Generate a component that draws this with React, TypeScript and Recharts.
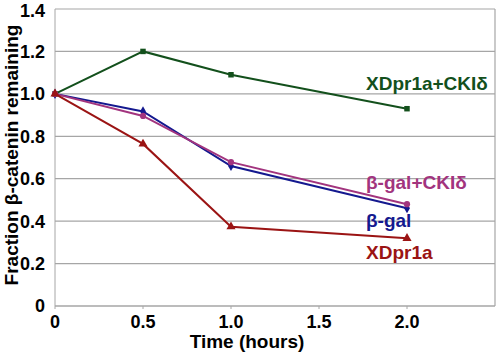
import React from "react";
import { CartesianGrid, Label, LabelList, Line, LineChart, ReferenceLine, Symbols, XAxis, YAxis } from "recharts";

const hours = [0, 0.5, 1.0, 2.0];
const xdprCki = [1.0, 1.2, 1.09, 0.93];
const betaGal = [1.0, 0.917, 0.66, 0.461];
const betaGalCki = [1.0, 0.896, 0.678, 0.48];
const xdpr = [1.0, 0.764, 0.374, 0.319];
const xTicks = [0, 0.5, 1.0, 1.5, 2.0];
const yTicks = [0, 0.2, 0.4, 0.6, 0.8, 1.0, 1.2, 1.4];

const data = hours.map((t, i) => ({
  t,
  xdprCki: xdprCki[i],
  betaGal: betaGal[i],
  betaGalCki: betaGalCki[i],
  xdpr: xdpr[i],
}));

const FONT = "'Liberation Sans', Arial, sans-serif";

const series = [
  { key: "xdprCki", name: "XDpr1a+CKIδ", color: "#13501c", shape: "square", dy: -25 },
  { key: "betaGal", name: "β-gal", color: "#14198f", shape: "diamond", dy: 12 },
  { key: "betaGalCki", name: "β-gal+CKIδ", color: "#a2347e", shape: "circle", dy: -22 },
  { key: "xdpr", name: "XDpr1a", color: "#9b1414", shape: "triangle", dy: 14 },
] as const;

const fmt = (v: number) => (v === 0 ? "0" : v.toFixed(1));

function makeDot(shape: string, color: string) {
  return (p: any) => (
    <Symbols key={p.index} cx={p.cx} cy={p.cy} type={shape as any} size={shape === "triangle" ? 36 : 30} fill={color} stroke="none" />
  );
}

function endLabel(name: string, color: string, dy: number, last: number) {
  return (p: any) =>
    p.index === last ? (
      <text x={Number(p.x) - 41} y={Number(p.y) + dy} dy="0.35em" fill={color} fontFamily={FONT} fontWeight="bold" fontSize={19}>
        {name}
      </text>
    ) : null;
}

const yTitle = () => (
  <text x={11} y={155} transform="rotate(-90, 11, 155)" textAnchor="middle" dy="0.35em" fill="#000" fontFamily={FONT} fontWeight="bold" fontSize={19}>
    Fraction β-catenin remaining
  </text>
);

const xTitle = (p: any) => {
  const vb = p.viewBox;
  return (
    <text x={vb.x + vb.width / 2 - 28} y={341} textAnchor="middle" dy="0.35em" fill="#000" fontFamily={FONT} fontWeight="bold" fontSize={19}>
      Time (hours)
    </text>
  );
};

export default function App() {
  return (
    <div style={{ position: "absolute", left: 0, top: 0, background: "#fff" }}>
      <LineChart width={498} height={353} data={data} margin={{ top: 9, right: 3, left: 0, bottom: 0 }}>
        <CartesianGrid vertical={false} stroke="#a6a6a6" strokeWidth={1.2} />
        <XAxis
          dataKey="t"
          type="number"
          domain={[0, 2.5]}
          ticks={xTicks}
          tickFormatter={fmt}
          height={47}
          stroke="#a6a6a6"
          tickSize={3}
          tickMargin={6}
          tick={{ fill: "#000", fontFamily: FONT, fontWeight: "bold", fontSize: 18 }}
        >
          <Label content={xTitle} />
        </XAxis>
        <YAxis
          domain={[0, 1.4]}
          ticks={yTicks}
          tickFormatter={fmt}
          width={55}
          stroke="#a6a6a6"
          tickLine={false}
          tickMargin={4}
          tick={{ fill: "#000", fontFamily: FONT, fontWeight: "bold", fontSize: 18 }}
        >
          <Label content={yTitle} />
        </YAxis>
        <ReferenceLine x={2.5} stroke="#a6a6a6" strokeWidth={1.2} />
        {series.map((s) => (
          <Line
            key={s.key}
            dataKey={s.key}
            name={s.name}
            stroke={s.color}
            strokeWidth={2}
            dot={makeDot(s.shape, s.color)}
            activeDot={false}
            isAnimationActive={false}
          >
            <LabelList dataKey={s.key} content={endLabel(s.name, s.color, s.dy, hours.length - 1)} />
          </Line>
        ))}
      </LineChart>
    </div>
  );
}
